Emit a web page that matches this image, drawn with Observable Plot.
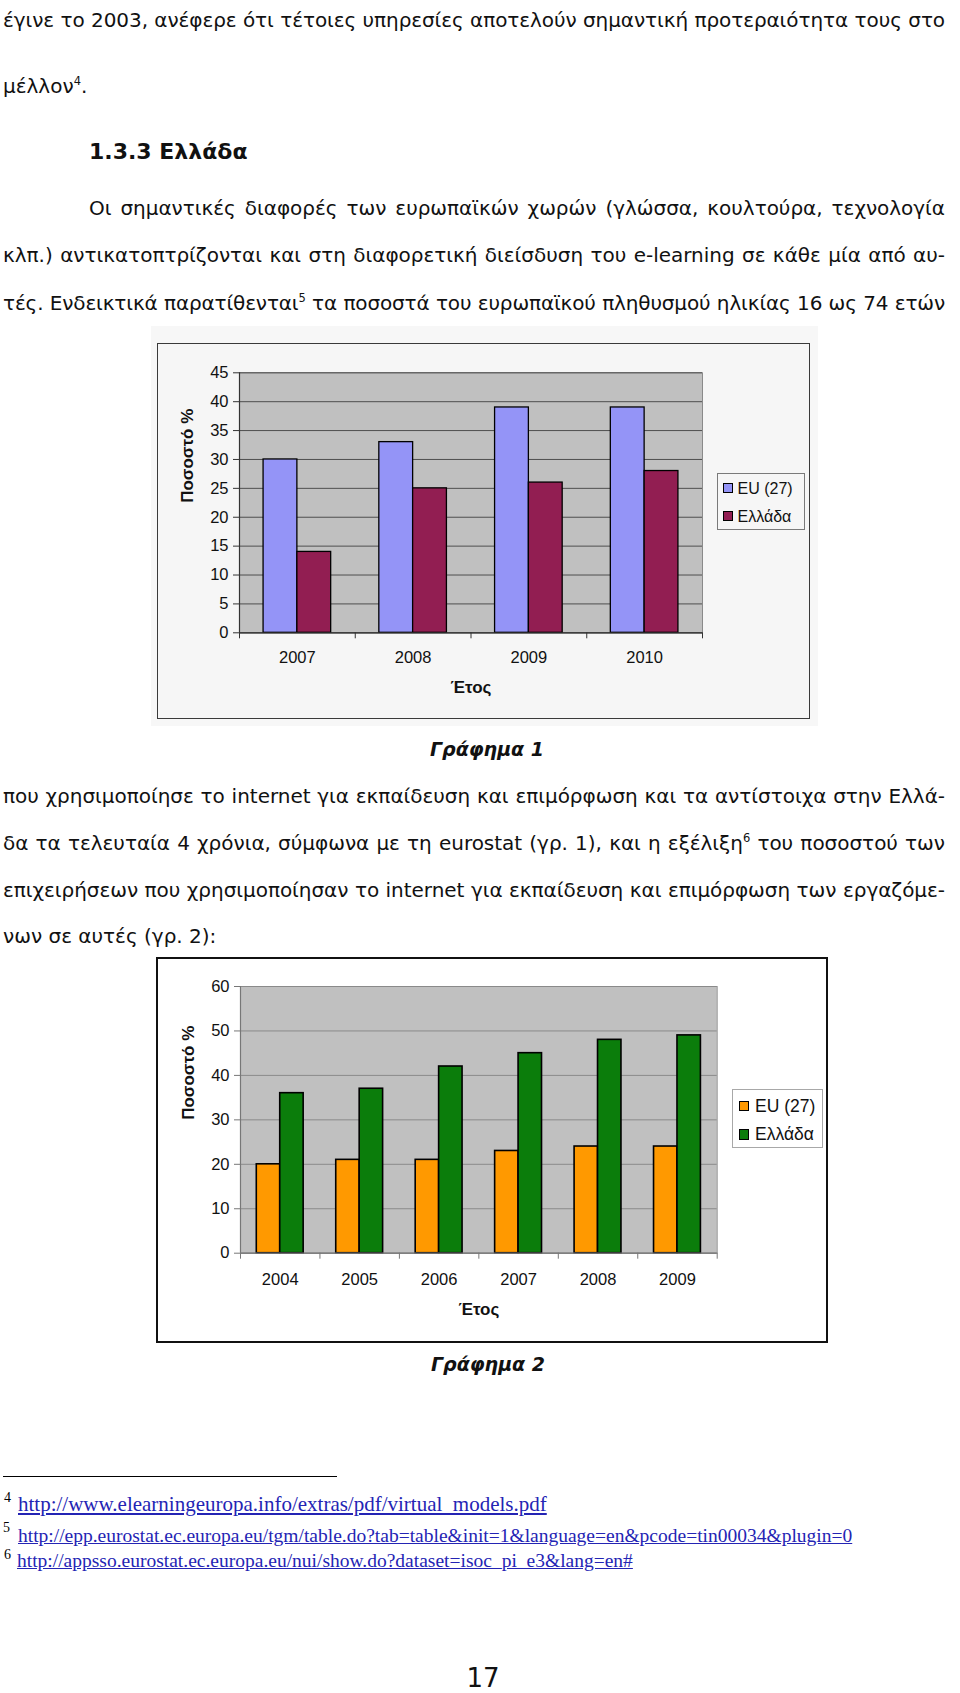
<!DOCTYPE html>
<html><head><meta charset="utf-8">
<script src="https://cdn.jsdelivr.net/npm/d3@7"></script>
<script src="https://cdn.jsdelivr.net/npm/@observablehq/plot@0.6"></script>
<style>
html,body{margin:0;padding:0;background:#fff;}
#page{position:relative;width:960px;height:1693px;overflow:hidden;font-family:"DejaVu Sans",Verdana,sans-serif;color:#111;}
.t{position:absolute;font-size:20px;line-height:20px;white-space:nowrap;}
.j{left:3px;width:942px;text-align:justify;text-align-last:justify;}
.ind{left:89px;width:856px;}
sup{font-size:11.5px;vertical-align:baseline;position:relative;top:-8.5px;line-height:0;}
.cap{position:absolute;left:0;width:960px;text-align:center;font-weight:bold;font-style:italic;font-size:19px;line-height:19px;}
.box{position:absolute;box-sizing:border-box;}
.svgwrap{position:absolute;}
.leg{position:absolute;box-sizing:border-box;font-family:"Liberation Sans",Arial,sans-serif;color:#111;}
.leg .it{position:absolute;white-space:nowrap;}
.leg .sw{position:absolute;box-sizing:border-box;border:1px solid #000;}
.fn{position:absolute;font-family:"Liberation Serif","Times New Roman",serif;white-space:nowrap;color:#000;}
.fn a{color:#2424b4;text-decoration:underline;}
.fn .num{position:absolute;font-size:14px;line-height:14px;}
</style></head>
<body><div id="page">

<div class="t j" style="top:10px">έγινε το 2003, ανέφερε ότι τέτοιες υπηρεσίες αποτελούν σημαντική προτεραιότητα τους στο</div>
<div class="t" style="left:3px;top:76px">μέλλον<sup>4</sup>.</div>
<div class="t" style="left:89px;top:141px;font-weight:bold;font-size:22px;line-height:22px">1.3.3 Ελλάδα</div>
<div class="t j ind" style="top:198px">Οι σημαντικές διαφορές των ευρωπαϊκών χωρών (γλώσσα, κουλτούρα, τεχνολογία</div>
<div class="t j" style="top:245px">κλπ.) αντικατοπτρίζονται και στη διαφορετική διείσδυση του e-learning σε κάθε μία από αυ-</div>
<div class="t j" style="top:293px">τές. Ενδεικτικά παρατίθενται<sup>5</sup> τα ποσοστά του ευρωπαϊκού πληθυσμού ηλικίας 16 ως 74 ετών</div>

<div class="box" style="left:151px;top:326px;width:667px;height:400px;background:#f7f7f7"></div>
<div class="box" style="left:157px;top:343px;width:653px;height:376px;border:1.5px solid #3a3a3a;background:#f6f6f6"></div>
<div class="svgwrap" id="chart1" style="left:157px;top:343px"></div>
<div class="leg" style="left:716.5px;top:472.5px;width:88px;height:57px;border:1px solid #7a7a7a;background:#f6f6f6;font-size:16px" id="leg1"></div>

<div class="cap" style="top:740px;left:7px">Γράφημα 1</div>

<div class="t j" style="top:786px">που χρησιμοποίησε το internet για εκπαίδευση και επιμόρφωση και τα αντίστοιχα στην Ελλά-</div>
<div class="t j" style="top:833px">δα τα τελευταία 4 χρόνια, σύμφωνα με τη eurostat (γρ. 1), και η εξέλιξη<sup>6</sup> του ποσοστού των</div>
<div class="t j" style="top:880px">επιχειρήσεων που χρησιμοποίησαν το internet για εκπαίδευση και επιμόρφωση των εργαζόμε-</div>
<div class="t" style="left:3px;top:926px">νων σε αυτές (γρ. 2):</div>

<div class="box" style="left:156px;top:957px;width:672px;height:386px;border:2px solid #111;background:#fff"></div>
<div class="svgwrap" id="chart2" style="left:156px;top:957px"></div>
<div class="leg" style="left:731.5px;top:1089px;width:91px;height:59px;border:1px solid #a8a8a8;background:#fff;font-size:17.5px" id="leg2"></div>

<div class="cap" style="top:1355px;left:8px">Γράφημα 2</div>

<div style="position:absolute;left:3px;top:1475.5px;width:334px;height:1.3px;background:#000"></div>
<div class="fn" style="left:0;top:1494px;font-size:21px;line-height:21px"><span class="num" style="left:4px;top:-3px">4</span><a style="position:absolute;left:18px;top:0">http://www.elearningeuropa.info/extras/pdf/virtual_models.pdf</a></div>
<div class="fn" style="left:0;top:1525.5px;font-size:19.5px;line-height:19.5px"><span class="num" style="left:3px;top:-5px">5</span><a style="position:absolute;left:18px;top:0">http://epp.eurostat.ec.europa.eu/tgm/table.do?tab=table&amp;init=1&amp;language=en&amp;pcode=tin00034&amp;plugin=0</a></div>
<div class="fn" style="left:0;top:1550.5px;font-size:19.5px;line-height:19.5px"><span class="num" style="left:4px;top:-3px">6</span><a style="position:absolute;left:17px;top:0">http://appsso.eurostat.ec.europa.eu/nui/show.do?dataset=isoc_pi_e3&amp;lang=en#</a></div>

<div class="t" style="left:0;width:966px;text-align:center;top:1665px;font-size:26px;line-height:26px">17</div>

</div>
<script>
// ---- Data ----
const seriesNames = ["EU (27)", "Ελλάδα"];

const years1 = [2007, 2008, 2009, 2010];
const eu1 = [30, 33, 39, 39];
const gr1 = [14, 25, 26, 28];
const yTicks1 = [0, 5, 10, 15, 20, 25, 30, 35, 40, 45];

const years2 = [2004, 2005, 2006, 2007, 2008, 2009];
const eu2 = [20, 21, 21, 23, 24, 24];
const gr2 = [36, 37, 42, 45, 48, 49];
const yTicks2 = [0, 10, 20, 30, 40, 50, 60];

const yLabel = "Ποσοστό %";
const xLabel = "Έτος";

// ---- Fit justified text lines (never wrap; tighten if too wide) ----
document.querySelectorAll(".t.j").forEach(el => {
  const target = el.clientWidth;
  const span = document.createElement("span");
  span.innerHTML = el.innerHTML;
  el.innerHTML = "";
  el.append(span);
  const w = span.getBoundingClientRect().width;
  if (w > target - 2) {
    const n = span.textContent.length;
    el.style.letterSpacing = ((target - 2 - w) / n).toFixed(3) + "px";
  }
});

function makeChart(o) {
  const rows = o.years.flatMap((yr, i) => [
    {year: yr, series: seriesNames[0], value: o.eu[i], side: -1},
    {year: yr, series: seriesNames[1], value: o.gr[i], side: 1}
  ]);
  const W = o.barFrac;
  const x0 = o.years[0] - 0.5, x1 = o.years[o.years.length - 1] + 0.5;
  const bounds = o.years.map(y => y - 0.5).concat([x1]);
  return Plot.plot({
    width: o.width, height: o.height,
    marginLeft: o.ml, marginRight: o.mr, marginTop: o.mt, marginBottom: o.mb,
    x: {type: "linear", domain: [x0, x1], axis: null},
    y: {domain: [0, o.yTicks[o.yTicks.length - 1]], axis: null},
    color: {domain: seriesNames, range: o.colors},
    style: {fontFamily: "'Liberation Sans', Arial, sans-serif", fontSize: o.fontSize + "px", color: "#111", background: "transparent", overflow: "visible"},
    marks: [
      Plot.frame({fill: "#c0c0c0", stroke: o.frameStroke}),
      Plot.ruleY(o.yTicks, {stroke: o.grid, strokeWidth: 1}),
      Plot.rectY(rows, {
        x1: d => d.side < 0 ? d.year - W : d.year,
        x2: d => d.side < 0 ? d.year : d.year + W,
        y: "value", fill: "series", stroke: "#000", strokeWidth: o.barStroke
      }),
      Plot.ruleY([0], {stroke: o.axis, strokeWidth: 1.2}),
      Plot.ruleX([x0], {stroke: o.axis, strokeWidth: 1.2}),
      Plot.axisY({ticks: o.yTicks, tickSize: 6, tickPadding: 5, stroke: o.axis, label: null, fontSize: o.fontSize}),
      Plot.axisX({ticks: bounds, tickSize: 6, tickFormat: () => "", stroke: o.axis, label: null}),
      Plot.axisX({ticks: o.years, tickSize: 0, tickPadding: o.xPad, tickFormat: d => String(d), label: null, fontSize: o.fontSize}),
      Plot.text([yLabel], {text: d => d, frameAnchor: "left", dx: o.yTitleDx, rotate: -90, fontWeight: "bold", fontSize: 17, fill: "#111"}),
      Plot.text([xLabel], {text: d => d, frameAnchor: "bottom", dy: o.xTitleDy, fontWeight: "bold", fontSize: 17, fill: "#111"})
    ]
  });
}

document.getElementById("chart1").append(makeChart({
  years: years1, eu: eu1, gr: gr1, yTicks: yTicks1,
  colors: ["#9494f7", "#921e52"],
  width: 653, height: 376, ml: 82, mr: 108, mt: 29.3, mb: 86.7,
  grid: "#4e4e4e", axis: "#333", frameStroke: "#8a8a8a", barStroke: 1.3,
  fontSize: 16.5, barFrac: 0.292, yTitleDx: -52.3, xTitleDy: 60, xPad: 18
}));

document.getElementById("chart2").append(makeChart({
  years: years2, eu: eu2, gr: gr2, yTicks: yTicks2,
  colors: ["#ff9900", "#0b7d0b"],
  width: 672, height: 386, ml: 84, mr: 111.3, mt: 29, mb: 90.3,
  grid: "#8a8a8a", axis: "#777", frameStroke: "#9a9a9a", barStroke: 1.6,
  fontSize: 16.5, barFrac: 0.295, yTitleDx: -51.7, xTitleDy: 62, xPad: 20
}));

// ---- Legends ----
function legend(id, colors, sw, swLeft, swTops, txtLeft, txtCenters, fs) {
  const el = document.getElementById(id);
  seriesNames.forEach((name, i) => {
    const s = document.createElement("div");
    s.className = "sw";
    s.style.cssText = `left:${swLeft}px;top:${swTops[i]}px;width:${sw}px;height:${sw}px;background:${colors[i]}`;
    el.append(s);
    const t = document.createElement("div");
    t.className = "it";
    t.textContent = name;
    t.style.cssText = `left:${txtLeft}px;top:${txtCenters[i] - fs * 0.58}px;line-height:${fs * 1.16}px`;
    el.append(t);
  });
}
legend("leg1", ["#9494f7", "#921e52"], 10, 5.2, [9.2, 37.5], 20, [15.3, 43.8], 16);
legend("leg2", ["#ff9900", "#0b7d0b"], 10.7, 6, [10.7, 39], 22.5, [16.2, 44.5], 17.5);
</script>
</body></html>
